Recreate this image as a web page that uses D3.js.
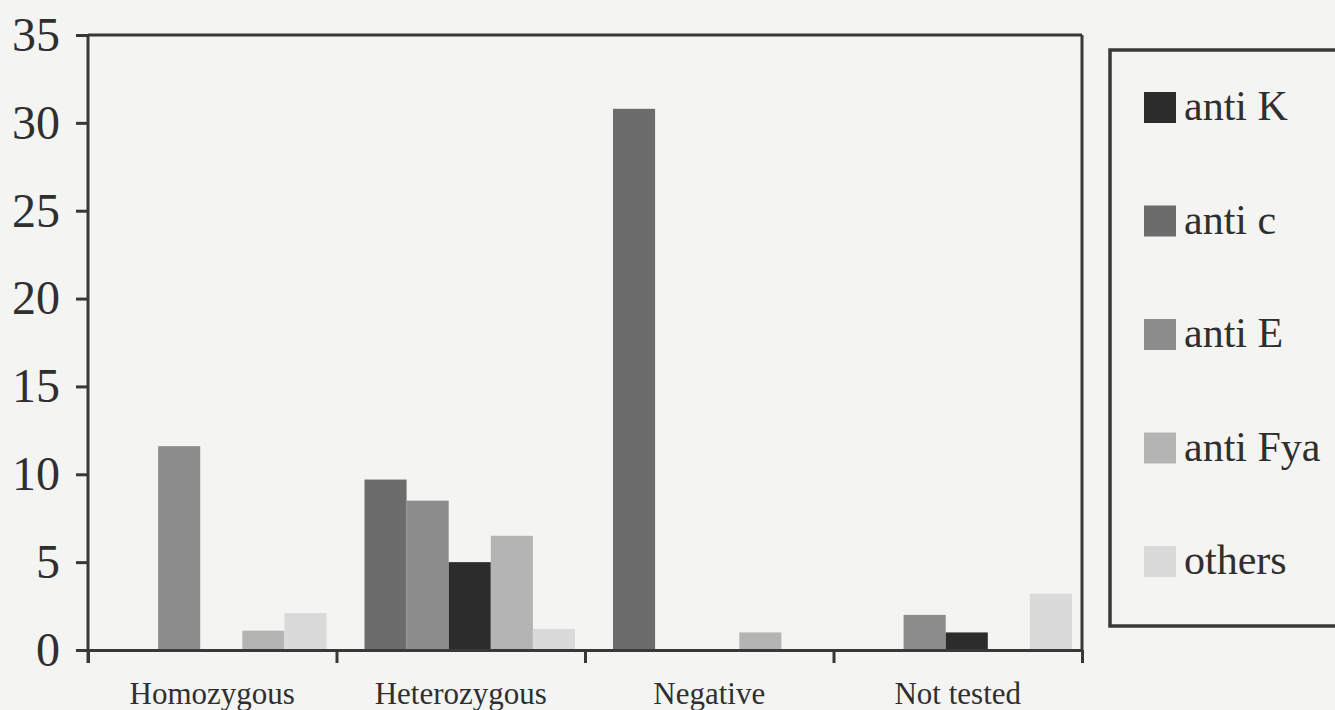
<!DOCTYPE html>
<html>
<head>
<meta charset="utf-8">
<script src="https://cdn.jsdelivr.net/npm/d3@7"></script>
<style>
body { margin: 0; background: #f4f4f2; }
svg { display: block; font-family: "Liberation Serif", "Times New Roman", serif; }
</style>
</head>
<body>
<div class="chart"></div>
<script>
// data
var categories = ["Homozygous", "Heterozygous", "Negative", "Not tested"];
var barOrder = ["anti c", "anti E", "anti K", "anti Fya", "others"];
var legendOrder = ["anti K", "anti c", "anti E", "anti Fya", "others"];
var antiK   = [0, 5.0, 0, 1.0];
var antiC   = [0, 9.7, 30.8, 0];
var antiE   = [11.6, 8.5, 0, 2.0];
var antiFya = [1.1, 6.5, 1.0, 0];
var others  = [2.1, 1.2, 0, 3.2];
var yTicks  = [0, 5, 10, 15, 20, 25, 30, 35];

var seriesValues = {
    "anti K": antiK,
    "anti c": antiC,
    "anti E": antiE,
    "anti Fya": antiFya,
    "others": others
};
var colors = {
    "anti K": "#2c2c2c",
    "anti c": "#6c6c6c",
    "anti E": "#8d8d8d",
    "anti Fya": "#b4b4b4",
    "others": "#dadada"
};

var svgWidth = 1335, svgHeight = 710;
var margin = { top: 35, left: 88, right: 253, bottom: 60 };
var width = svgWidth - margin.left - margin.right;
var height = svgHeight - margin.top - margin.bottom;
var ink = "#383838";
var textInk = "#2f2f2f";

var svg = d3.select(".chart")
    .append("svg")
    .attr("width", svgWidth)
    .attr("height", svgHeight);

var chartGroup = svg.append("g")
    .attr("transform", `translate(${margin.left}, ${margin.top})`);

// scales
var x0 = d3.scaleBand().domain(categories).range([0, width]);
var x1 = d3.scaleBand().domain(barOrder).range([28, x0.bandwidth() - 10]);
var xEdge = d3.scaleLinear().domain([0, categories.length]).range([0, width]);
var y = d3.scaleLinear().domain([0, 35]).range([height, 0]);

// bars
var rows = categories.map(function (c, i) {
    return { cat: c, vals: barOrder.map(function (s) { return { key: s, value: seriesValues[s][i] }; }) };
});

var groups = chartGroup.selectAll(".grp")
    .data(rows)
    .enter()
    .append("g")
    .attr("class", "grp")
    .attr("transform", d => `translate(${x0(d.cat)},0)`);

groups.selectAll("rect")
    .data(d => d.vals.filter(v => v.value > 0))
    .enter()
    .append("rect")
    .attr("x", d => x1(d.key))
    .attr("width", x1.bandwidth())
    .attr("y", d => y(d.value))
    .attr("height", d => height - y(d.value))
    .attr("fill", d => colors[d.key]);

// frame: top and right
chartGroup.append("line")
    .attr("x1", 0).attr("x2", width)
    .attr("y1", 0).attr("y2", 0)
    .attr("stroke", ink).attr("stroke-width", 3);
chartGroup.append("line")
    .attr("x1", width).attr("x2", width)
    .attr("y1", 0).attr("y2", height)
    .attr("stroke", ink).attr("stroke-width", 3);

// y axis
var yAxis = d3.axisLeft(y)
    .tickValues(yTicks)
    .tickSize(12)
    .tickSizeOuter(0)
    .tickPadding(16);

var yg = chartGroup.append("g").call(yAxis);
yg.select(".domain").attr("stroke", ink).attr("stroke-width", 3)
    .attr("d", `M0,0V${height + 13}`);
yg.selectAll(".tick line").attr("stroke", ink).attr("stroke-width", 3);
yg.selectAll(".tick text")
    .attr("fill", textInk)
    .style("font-size", "48px")
    .style("font-family", "Liberation Serif, serif");

// x axis: ticks at the band edges
var xAxis = d3.axisBottom(xEdge)
    .tickValues(d3.range(categories.length + 1))
    .tickFormat("")
    .tickSize(13)
    .tickSizeOuter(0);

var xg = chartGroup.append("g")
    .attr("transform", `translate(0,${height})`)
    .call(xAxis);
xg.select(".domain").attr("stroke", ink).attr("stroke-width", 3);
xg.selectAll(".tick line").attr("stroke", ink).attr("stroke-width", 3);

// category labels
var xl = chartGroup.append("g")
    .attr("transform", `translate(0,${height})`)
    .call(d3.axisBottom(x0).tickSize(0).tickPadding(32));
xl.select(".domain").remove();
xl.selectAll(".tick text")
    .attr("fill", textInk)
    .style("font-size", "31px")
    .style("font-family", "Liberation Serif, serif");

// legend
var legend = svg.append("g").attr("transform", "translate(1110,50)");
legend.append("rect")
    .attr("x", 0).attr("y", 0)
    .attr("width", 260).attr("height", 576)
    .attr("fill", "none")
    .attr("stroke", ink)
    .attr("stroke-width", 3.5);

var items = legend.selectAll(".item")
    .data(legendOrder)
    .enter()
    .append("g")
    .attr("class", "item")
    .attr("transform", (d, i) => `translate(34,${58 + i * 113.5})`);

items.append("rect")
    .attr("x", 0).attr("y", -16)
    .attr("width", 32).attr("height", 31)
    .attr("fill", d => colors[d]);

items.append("text")
    .attr("x", 40)
    .attr("y", 12)
    .attr("fill", textInk)
    .style("font-size", "42px")
    .text(d => d);
</script>
</body>
</html>
